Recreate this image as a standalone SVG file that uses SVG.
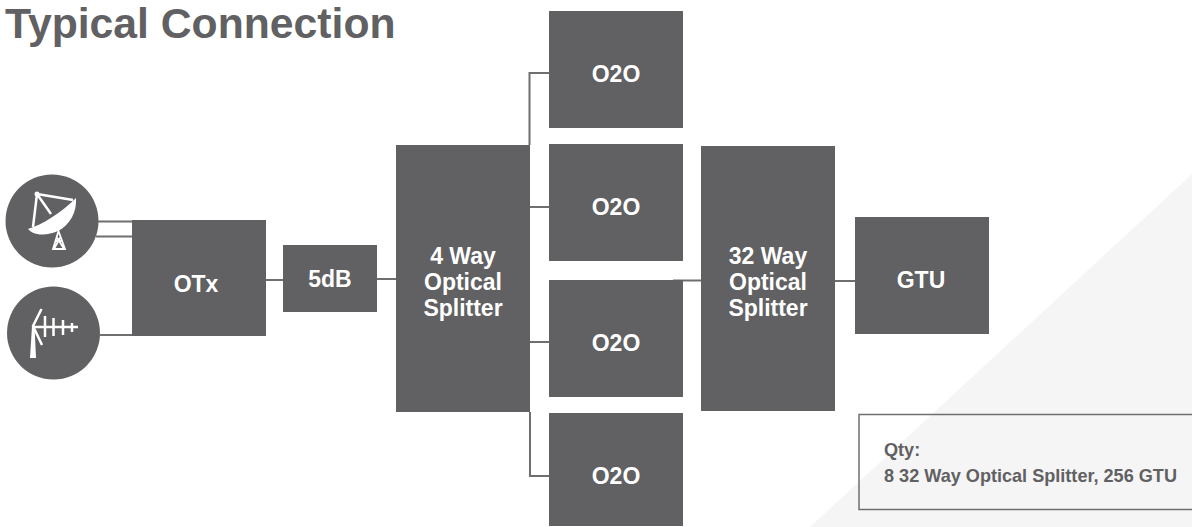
<svg xmlns="http://www.w3.org/2000/svg" width="1192" height="527" viewBox="0 0 1192 527">
<style>
.n{fill:#616062}
.t{font-family:"Liberation Sans",Arial,sans-serif;font-weight:700;font-size:23px;fill:#fff;text-anchor:middle}
.c{fill:none;stroke:#6f6f6f;stroke-width:2}
.i{fill:#fff}
.il{fill:none;stroke:#fff;stroke-width:2.500}
.tw{fill:none;stroke:#fff;stroke-width:1.800}
.q{font-family:"Liberation Sans",Arial,sans-serif;font-weight:700;font-size:18.100px;fill:#616062}
</style>
<rect width="1192" height="527" fill="#fff"/>
<polygon id="backdrop" points="1192,174 1192,527 810,527" fill="#f5f5f5"/>
<text x="5" y="38" font-family="'Liberation Sans',Arial,sans-serif" font-weight="700" font-size="42.700" fill="#616062">Typical Connection</text>
<g id="connectors">
<path class="c" d="M98 221.500H132M96 236.500H132M100 335H132M266 280H283M377 279H396"/>
<path class="c" d="M529.500 145V73H549M530 207H549M530 342H549M530 412V476H549"/>
<path class="c" d="M673 280.500H701M835 281H855"/>
</g>
<g id="dish">
<circle class="n" cx="52" cy="221" r="46.500"/>
<path class="i" d="M28 229C42 225 62 212 76 198C77 212 70 225 58 231C47 236 34 236 28 229Z"/>
<path class="il" d="M37 194L33 227M37 194L73 200M37 194L51 214"/>
<circle class="i" cx="37" cy="194" r="2.500"/>
<path class="tw" d="M58.500 231L53 249H65ZM56.500 237L63.500 248M60.500 237L54.500 248M56 241H62"/>
</g>
<g id="antenna">
<circle class="n" cx="53.500" cy="333" r="46.500"/>
<path class="i" d="M32 326L34.500 326L36 358H30Z"/>
<path class="il" d="M41.500 309L33 326L42 345"/>
<path class="il" d="M33 327H78M45 316V337M53.500 318V336M63 320V335"/>
<path class="il" d="M72 323V332"/>
</g>
<g id="otx"><rect class="n" x="132" y="220" width="134" height="116"/><text class="t" x="196" y="292">OTx</text></g>
<g id="attenuator"><rect class="n" x="283" y="245" width="94" height="67"/><text class="t" x="330" y="287">5dB</text></g>
<g id="splitter-4"><rect class="n" x="396" y="145" width="134" height="267"/><text class="t" x="463" y="264">4 Way</text><text class="t" x="463" y="290">Optical</text><text class="t" x="463" y="316">Splitter</text></g>
<g id="o2o-1"><rect class="n" x="549" y="11" width="134" height="117"/><text class="t" x="616" y="82">O2O</text></g>
<g id="o2o-2"><rect class="n" x="549" y="144" width="134" height="117"/><text class="t" x="616" y="215">O2O</text></g>
<g id="o2o-3"><rect class="n" x="549" y="280" width="134" height="117"/><text class="t" x="616" y="351">O2O</text></g>
<g id="o2o-4"><rect class="n" x="549" y="413" width="134" height="113"/><text class="t" x="616" y="484">O2O</text></g>
<g id="splitter-32"><rect class="n" x="701" y="146" width="134" height="265"/><text class="t" x="768" y="264">32 Way</text><text class="t" x="768" y="290">Optical</text><text class="t" x="768" y="316">Splitter</text></g>
<g id="gtu"><rect class="n" x="855" y="217" width="134" height="117"/><text class="t" x="921" y="288">GTU</text></g>
<g id="qty">
<path d="M1192 414.500H859V509.500H1192" fill="none" stroke="#6f6f6f" stroke-width="1.500"/>
<text class="q" x="884" y="456">Qty:</text>
<text class="q" x="884" y="481.500">8 32 Way Optical Splitter, 256 GTU</text>
</g>
</svg>
